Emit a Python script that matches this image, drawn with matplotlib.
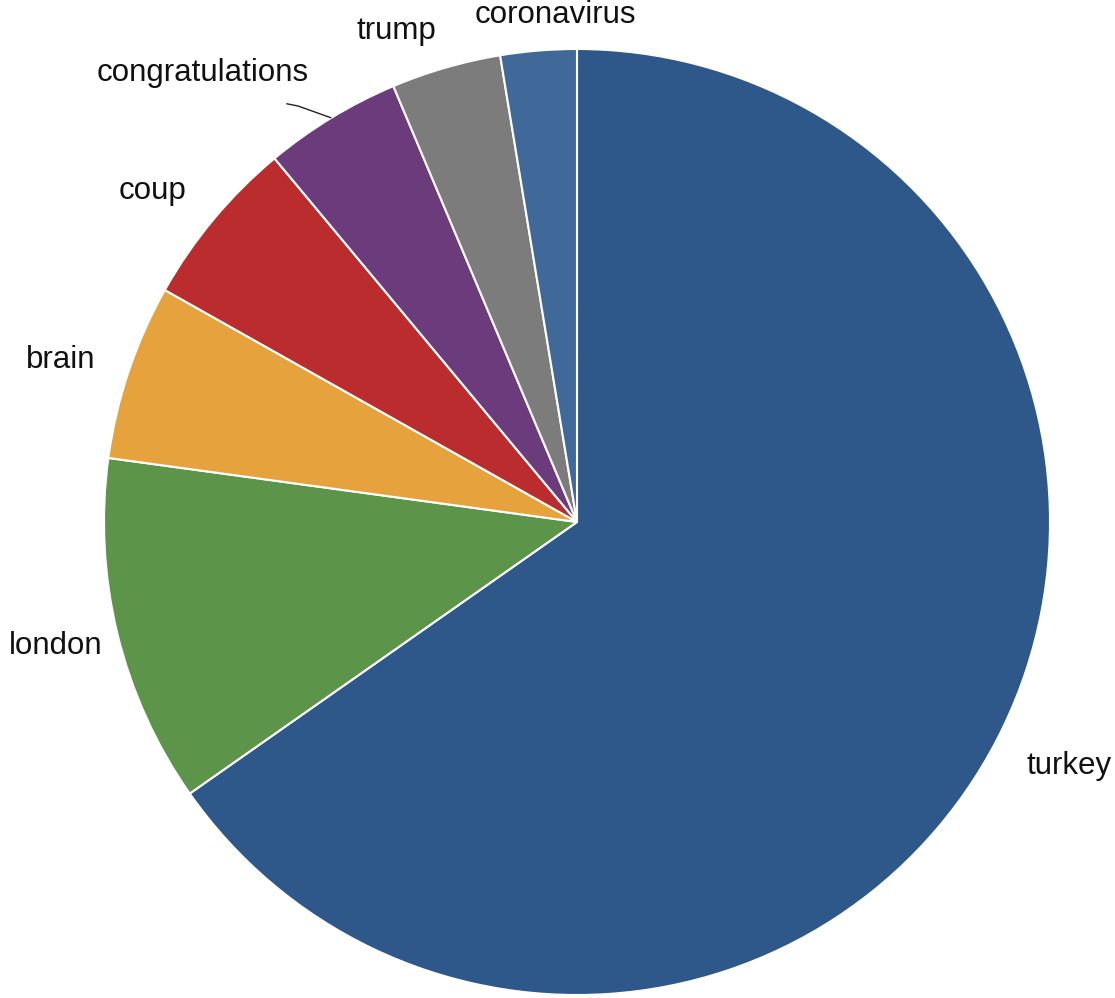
import numpy as np
import matplotlib.pyplot as plt

plt.rcParams['font.family'] = ['Liberation Sans', 'DejaVu Sans']

# share of each term (percent)
terms = ['turkey', 'london', 'brain', 'coup', 'congratulations', 'trump', 'coronavirus']
shares = [65.3, 11.9, 6.0, 5.8, 4.7, 3.75, 2.6]
colors = ['#2e578a', '#5c9549', '#e6a23c', '#bb2c2f', '#6c3b7b', '#7b7c7b', '#40699a']

# label placement: radius, alignment, small nudges
label_r = [1.075, 1.04, 1.075, 1.08, 1.11, 1.08, 1.077]
label_ha = ['left', 'right', 'right', 'right', 'right', 'right', 'center']
label_dx = [-0.003, 0.007, 0.0, 0.004, 0.01, 0.002, 0.043]
label_dy = [-0.02, -0.017, 0.0, 0.008, 0.0, 0.0, -0.002]

fig = plt.figure(figsize=(11.15, 9.98), dpi=100)
ax = fig.add_axes([0, 0, 1, 1])

wedges, _ = ax.pie(shares, colors=colors, startangle=90, counterclock=False,
                   radius=1.0, center=(0, 0),
                   wedgeprops=dict(edgecolor='white', linewidth=1.5))

for w, name, r, ha, dx, dy in zip(wedges, terms, label_r, label_ha, label_dx, label_dy):
    mid = np.deg2rad((w.theta1 + w.theta2) / 2)
    x, y = r * np.cos(mid) + dx, r * np.sin(mid) + dy
    ax.text(x, y, name, ha=ha, va='center', fontsize=22.5, color='#111111')
    if name == 'congratulations':
        # short leader line from the slice edge
        x0, y0 = np.cos(mid), np.sin(mid)
        ax.plot([x0, x0 - 0.07, x0 - 0.095], [y0, y0 + 0.025, y0 + 0.03],
                color='#222222', lw=1.0, solid_capstyle='butt')

# pixel layout: centre at (577, 522), radius 473 in a 1115x998 canvas
ax.set_xlim(-577 / 473, (1115 - 577) / 473)
ax.set_ylim(-(998 - 522) / 473, 522 / 473)
ax.set_aspect('equal')
ax.axis('off')

fig.savefig('out.png', dpi=100)
